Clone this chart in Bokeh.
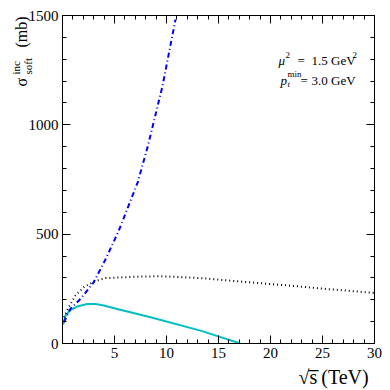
import math
from bokeh.plotting import figure
from bokeh.models import Range1d, FixedTicker, LinearAxis, Label
from bokeh.embed import file_html
from bokeh.resources import INLINE

# ---- data ----
x_blue = [0.13, 0.77, 1.73, 3.0, 4.13, 5.42, 7.24, 8.2, 9.59, 10.87]
y_blue = [97, 159, 204, 280, 384, 517, 738, 902, 1172, 1482]

x_black = [0.13, 0.6, 1.25, 2.05, 3.0, 4.13, 6.86, 9.4, 13.3, 15, 18, 20, 22, 25, 28, 30]
y_black = [120, 166, 220, 257, 283, 299, 305, 308, 299, 292, 280, 272, 264, 251, 239, 231]

x_cyan = [0.06, 0.29, 0.77, 1.41, 2.37, 3.17, 3.97, 5.26, 8.46, 13.27, 17.1]
y_cyan = [87, 128, 154, 169, 181, 181, 174, 158, 120, 59, 0]

x_major = [0, 5, 10, 15, 20, 25, 30]
x_minor = list(range(0, 31))
y_major = [0, 500, 1000, 1500]
y_minor = list(range(0, 1501, 100))

FONT = "Liberation Serif"
W = H = 390

p = figure(width=W, height=H, output_backend="svg", toolbar_location=None,
           x_range=Range1d(0, 30), y_range=Range1d(0, 1500),
           min_border_left=62, min_border_right=W - 374, min_border_top=15,
           min_border_bottom=H - 343,
           x_axis_location=None, y_axis_location=None)
p.grid.visible = False
p.outline_line_color = "black"
p.outline_line_width = 1
p.background_fill_color = "white"
p.border_fill_color = "white"


def make_axis(ticks, minor, show_labels, overrides=None):
    ax = LinearAxis(ticker=FixedTicker(ticks=ticks, minor_ticks=minor))
    ax.major_tick_in = 8
    ax.major_tick_out = 0
    ax.minor_tick_in = 4
    ax.minor_tick_out = 0
    ax.axis_line_color = "black"
    ax.major_tick_line_color = "black"
    ax.minor_tick_line_color = "black"
    if show_labels:
        ax.major_label_text_font = FONT
        ax.major_label_text_font_size = "15px"
        ax.major_label_text_color = "black"
        ax.major_label_standoff = 4
        if overrides:
            ax.major_label_overrides = overrides
    else:
        ax.major_label_overrides = {t: "" for t in ticks}
        ax.major_label_text_font_size = "1px"
        ax.major_label_standoff = 0
    return ax

p.add_layout(make_axis(x_major, x_minor, True, {0: ""}), "below")
p.add_layout(make_axis(y_major, y_minor, True), "left")
p.add_layout(make_axis(x_major, x_minor, False), "above")
p.add_layout(make_axis(y_major, y_minor, False), "right")

p.line(x_cyan, y_cyan, line_color="#00bfc4", line_width=2)
p.line(x_black, y_black, line_color="black", line_width=2, line_dash="1 3")
p.line(x_blue, y_blue, line_color="#0000ff", line_width=2, line_dash="5 3 1 3")


def lab(text, px, py, size, style="normal", angle=0, place="center"):
    # px, py: canvas pixel position (from top-left) of the text baseline start
    lb = Label(x=px, y=py, x_units="canvas", y_units="canvas",
               text=text, text_font=FONT,
               text_font_size=f"{size}px", text_font_style=style,
               text_color="black", text_align="left",
               text_baseline="alphabetic", angle=angle)
    p.add_layout(lb, place)

# annotations inside frame
lab("μ", 278, 60, 13, "italic")
lab("2", 285, 54, 9)
lab("=", 297, 60, 13)
lab("1.5 GeV", 311, 60, 13)
lab("2", 352, 54, 9)

lab("p", 280, 80, 13, "italic")
lab("t", 287, 83, 9, "italic")
lab("min", 287, 73, 9)
lab("=", 300, 80, 13)
lab("3.0 GeV", 311, 80, 13)

# y-axis label (rotated); pieces spread over side panels so they are not clipped
r = math.pi / 2
lab("σ\u2002\u2002\u2002\u2009\u2009(mb)", 21, 86, 16, "normal", r, "left")
lab("soft", 27, 74, 11, "normal", r, "right")
lab("inc", 15, 74, 11, "normal", r, "above")

# x-axis label
lab("√s\u0305\u2009(TeV)", 298, 376, 20, "normal", 0, "below")

open("out.html", "w").write(file_html(p, INLINE))
